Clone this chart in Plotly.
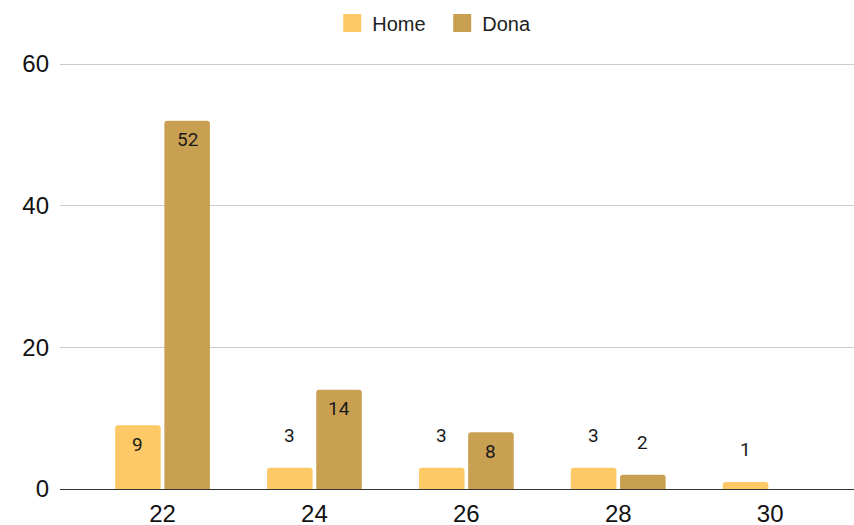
import plotly.graph_objects as go

categories = ["22", "24", "26", "28", "30"]
home = [9, 3, 3, 3, 1]
dona = [52, 14, 8, 2, None]

HOME_COLOR = "#FCC966"
DONA_COLOR = "#C9A052"
AXIS_FONT = "Liberation Sans"
LABEL_FONT = "Roboto"

xi = list(range(len(categories)))
bar_w = 0.30
gap = 0.012
series = [
    ("Home", home, HOME_COLOR, -(bar_w + gap)),
    ("Dona", dona, DONA_COLOR, gap),
]

fig = go.Figure()
annotations = []
for name, vals, color, off in series:
    fig.add_trace(go.Bar(
        x=xi, y=vals, name=name, width=bar_w, offset=off,
        marker=dict(color=color, line=dict(width=0), cornerradius=3),
        showlegend=False, hoverinfo="skip",
    ))
    # legend proxy with larger square
    fig.add_trace(go.Scatter(
        x=[None], y=[None], mode="markers", name=name,
        marker=dict(symbol="square", size=16, color=color,
                    line=dict(width=2, color=color)),
        showlegend=True,
    ))
    for i, v in zip(xi, vals):
        if v is None:
            continue
        inside = v > 5
        annotations.append(dict(
            x=i + off + bar_w / 2, y=v, xref="x", yref="y",
            text=str(v), showarrow=False,
            yanchor="middle", xanchor="center",
            yshift=-19 if inside else 32,
            font=dict(family=LABEL_FONT, size=19, color="#1a1a1a"),
        ))

fig.update_layout(
    width=854, height=525,
    margin=dict(l=60, r=0, t=63, b=36, pad=0, autoexpand=False),
    paper_bgcolor="white", plot_bgcolor="white",
    barmode="overlay",
    font=dict(family=AXIS_FONT, size=20, color="#222222"),
    legend=dict(
        orientation="h", xref="container", yref="container",
        x=0.389, y=0.956, xanchor="left", yanchor="middle",
        font=dict(family=AXIS_FONT, size=20, color="#222222"),
        itemsizing="trace", entrywidth=65,
        bgcolor="rgba(0,0,0,0)",
    ),
    annotations=annotations,
    xaxis=dict(
        range=[-0.675, 4.552], tickvals=xi, ticktext=categories,
        showgrid=False, zeroline=False, showline=False, automargin=False,
        ticks="outside", ticklen=3, tickcolor="rgba(0,0,0,0)",
        tickfont=dict(family=AXIS_FONT, size=24, color="#111111"),
    ),
    yaxis=dict(
        range=[0, 60.15], tickvals=[0, 20, 40, 60],
        showgrid=True, gridcolor="#CCCCCC", gridwidth=1,
        zeroline=True, zerolinecolor="#333333", zerolinewidth=1,
        showline=False, automargin=False,
        ticks="", ticklabelstandoff=10,
        tickfont=dict(family=AXIS_FONT, size=24, color="#111111"),
    ),
)

fig.write_html(
    "out.html",
    config={"displayModeBar": False, "staticPlot": True},
    post_script="document.body.style.margin='0';document.body.style.overflow='hidden';",
)
